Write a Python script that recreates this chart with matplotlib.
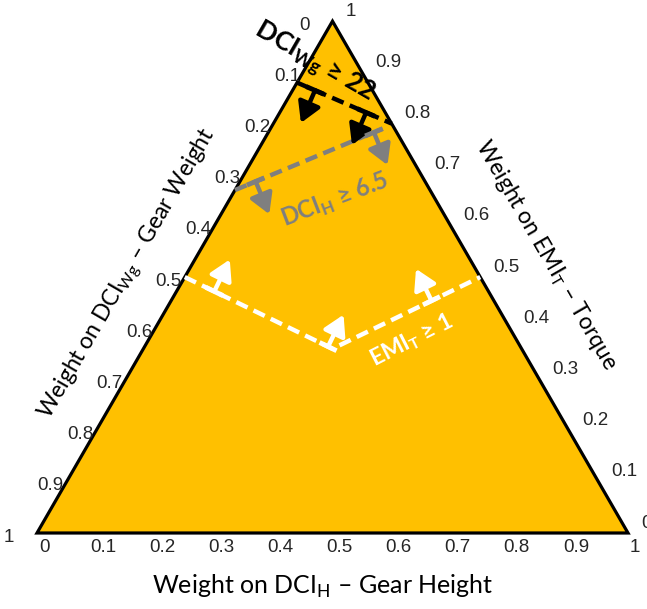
import numpy as np
import matplotlib
matplotlib.use("Agg")
import matplotlib.pyplot as plt
from matplotlib.patches import Polygon

plt.rcParams['font.family'] = ['Lato', 'DejaVu Sans']
plt.rcParams['mathtext.fontset'] = 'custom'
plt.rcParams['mathtext.rm'] = 'Lato'
plt.rcParams['mathtext.bf'] = 'Lato:bold'

# tick values shared by the three sides
tick_values = [0.0, 0.1, 0.2, 0.3, 0.4, 0.5, 0.6, 0.7, 0.8, 0.9, 1.0]
tick_labels = ['0', '0.1', '0.2', '0.3', '0.4', '0.5', '0.6', '0.7', '0.8', '0.9', '1']

# constraint boundaries, weights given as (DCI_H, EMI_T, DCI_Wg)
dci_wg_line = [(0.00, 0.88, 0.12), (0.20, 0.80, 0.00)]
dci_h_line = [(0.00, 0.67, 0.33), (0.19, 0.79, 0.02)]
emi_t_line = [(0.00, 0.50, 0.50), (0.32, 0.36, 0.32), (0.50, 0.50, 0.00)]

# feasible-side arrows: (segment index, fraction along segment)
dci_wg_arrows = [(0, 0.19), (0, 0.73)]
dci_h_arrows = [(0, 0.14), (0, 0.94)]
emi_t_arrows = [(0, 0.20), (0, 0.97), (1, 0.67)]

FILL = '#FFC000'
GRAY = '#7F7F7F'
SQ3 = np.sqrt(3) / 2


def to_xy(h, t, w):
    return h + 0.5 * t, t * SQ3


def draw_constraint(ax, pts, arrows, color, side):
    xy = np.array([to_xy(*p) for p in pts])
    ax.plot(xy[:, 0], xy[:, 1], color=color, lw=3.2, dashes=(2.8, 1.5),
            solid_capstyle='butt', dash_capstyle='butt', zorder=3)
    for seg, frac in arrows:
        a, b = xy[seg], xy[seg + 1]
        d = (b - a) / np.linalg.norm(b - a)
        n = side * np.array([-d[1], d[0]])
        base = a + frac * (b - a)
        tip = base + 0.06 * n
        bar = np.array([base - 0.016 * d, base + 0.016 * d])
        ax.plot(bar[:, 0], bar[:, 1], color=color, lw=3.5,
                solid_capstyle='butt', zorder=4)
        ax.annotate('', xy=tip, xytext=base, zorder=4,
                    arrowprops=dict(arrowstyle='-|>,head_length=0.6,head_width=0.35',
                                    color=color, lw=3.2, shrinkA=0, shrinkB=0,
                                    mutation_scale=20))


fig = plt.figure(figsize=(6.47, 6.09), dpi=100)
ax = fig.add_axes([0, 0, 1, 1])
S = 591.0
ax.set_xlim(-37 / S, (647 - 37) / S)
ax.set_ylim(-76 / S, 533 / S)
ax.axis('off')

corners = np.array([to_xy(0, 0, 1), to_xy(1, 0, 0), to_xy(0, 1, 0)])
ax.add_patch(Polygon(corners, closed=True, facecolor=FILL, edgecolor='black',
                     lw=2.3, joinstyle='miter', zorder=1))

draw_constraint(ax, dci_wg_line, dci_wg_arrows, 'black', -1)
draw_constraint(ax, dci_h_line, dci_h_arrows, GRAY, -1)
draw_constraint(ax, emi_t_line, emi_t_arrows, 'white', 1)

# tick labels along the three sides
tick_kw = dict(fontsize=13.5, color='#262626', family='Liberation Sans')
for v, lab in zip(tick_values, tick_labels):
    x, y = to_xy(v, 0, 1 - v)
    ax.text(x + 7 / S, y - 15 / S, lab, ha='center', va='center', **tick_kw)
    x, y = to_xy(1 - v, v, 0)
    ax.text(x + 13 / S, y + 10 / S, lab, ha='left', va='center', **tick_kw)
    x, y = to_xy(0, 1 - v, v)
    shift = 20 / S if lab in ('0', '1') else 0
    ax.text(x - 3 / S - shift, y - 4 / S, lab, ha='right', va='center', **tick_kw)

# axis titles
ax.text(0.484, -0.090, r'Weight on DCI$_{\mathrm{H}}$ – Gear Height',
        ha='center', va='center', fontsize=18)
ax.text(0.155, 0.437, r'Weight on DCI$_{\mathrm{Wg}}$ – Gear Weight',
        ha='center', va='center', fontsize=16.5, rotation=60)
ax.text(0.862, 0.470, r'Weight on EMI$_{\mathrm{T}}$ – Torque',
        ha='center', va='center', fontsize=16.5, rotation=-60)

# constraint labels
ax.text(0.469, 0.797, r'DCI$_{\mathbf{Wg}}$ ≥ 22', ha='center', va='center',
        fontsize=19, fontweight='bold', color='black', rotation=-30, zorder=5)
ax.text(0.504, 0.563, r'DCI$_{\mathbf{H}}$ ≥ 6.5', ha='center', va='center',
        fontsize=17, fontweight='bold', color=GRAY, rotation=21, zorder=5)
ax.text(0.633, 0.325, r'EMI$_{\mathbf{T}}$ ≥ 1', ha='center', va='center',
        fontsize=16.5, fontweight='bold', color='white', rotation=27, zorder=5)

fig.savefig('out.png', dpi=100)
